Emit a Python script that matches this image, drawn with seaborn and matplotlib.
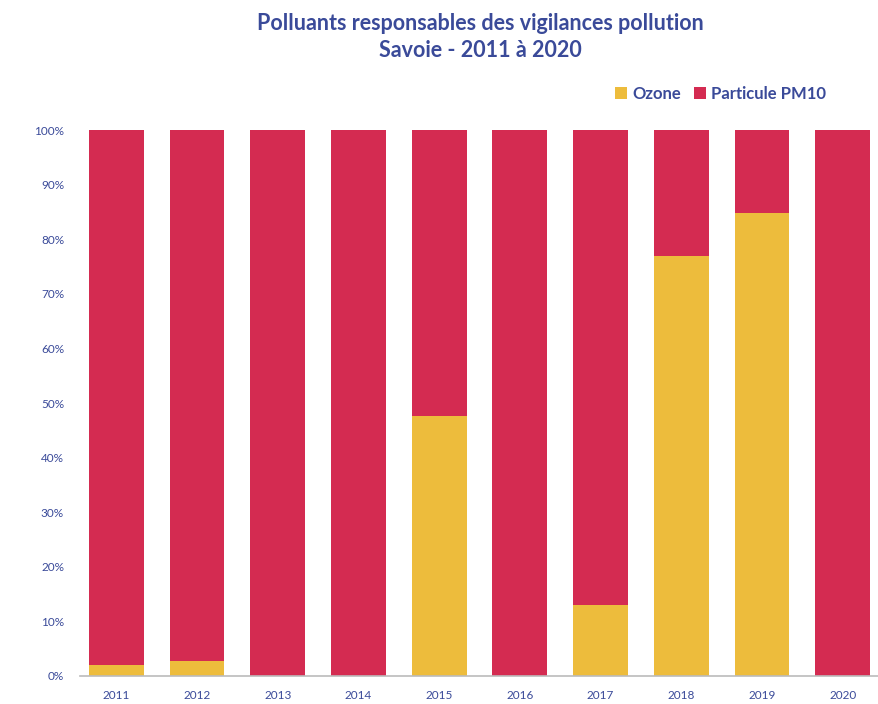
import numpy as np
import pandas as pd
import matplotlib.pyplot as plt
import seaborn as sns

# Colours ------------------------------------------------------------
c_ozone = "#EDBC3C"
c_pm10 = "#D42B51"
c_text = "#3A4A99"

# Data -----------------------------------------------------------------
years = ["2011", "2012", "2013", "2014", "2015", "2016", "2017", "2018", "2019", "2020"]
ozone = [2.0, 2.7, 0, 0, 47.6, 0, 12.9, 76.9, 84.8, 0]
pm10 = [100 - v for v in ozone]

df = pd.DataFrame({"year": years, "ozone": ozone, "pm10": pm10})
df["total"] = df["ozone"] + df["pm10"]

sns.set_style("white")
plt.rcParams["font.family"] = ["Lato", "DejaVu Sans"]

fig = plt.figure(figsize=(8.79, 7.04), dpi=100)
ax = fig.add_axes([0.091, 0.040, 0.909, 0.775])

# stacked: full bar in red, ozone part drawn over it
sns.barplot(data=df, x="year", y="total", color=c_pm10, width=0.68,
    saturation=1, linewidth=0, ax=ax, label="Particule PM10")
sns.barplot(data=df, x="year", y="ozone", color=c_ozone, width=0.68,
    saturation=1, linewidth=0, ax=ax, label="Ozone")

ax.set_xlim(-0.45, 9.45)
ax.set_ylim(0, 100)
ax.set_yticks(np.arange(0, 101, 10))
ax.set_yticklabels([f"{v}%" for v in range(0, 101, 10)])
ax.set_xlabel("")
ax.set_ylabel("")
ax.tick_params(axis="both", length=0, labelsize=8.5, labelcolor=c_text)
ax.tick_params(axis="y", pad=11.5)
ax.tick_params(axis="x", pad=10)

sns.despine(ax=ax, left=True)
ax.spines["bottom"].set_color("#BBBBBB")
ax.spines["bottom"].set_linewidth(1.2)

# legend: Ozone first
handles, labels = ax.get_legend_handles_labels()
order = [labels.index("Ozone"), labels.index("Particule PM10")]
ax.legend([handles[i] for i in order], [labels[i] for i in order],
    loc="lower right", bbox_to_anchor=(0.952, 1.025), ncol=2, frameon=False,
    handlelength=0.7, handleheight=0.7, handletextpad=0.3, columnspacing=0.8,
    prop={"weight": "bold", "size": 12}, labelcolor=c_text)

fig.text(0.546, 0.948, "Polluants responsables des vigilances pollution\nSavoie - 2011 à 2020",
    ha="center", va="center", fontsize=15.5, fontweight="bold", color=c_text,
    linespacing=1.35)

fig.savefig("out.png", dpi=100)
